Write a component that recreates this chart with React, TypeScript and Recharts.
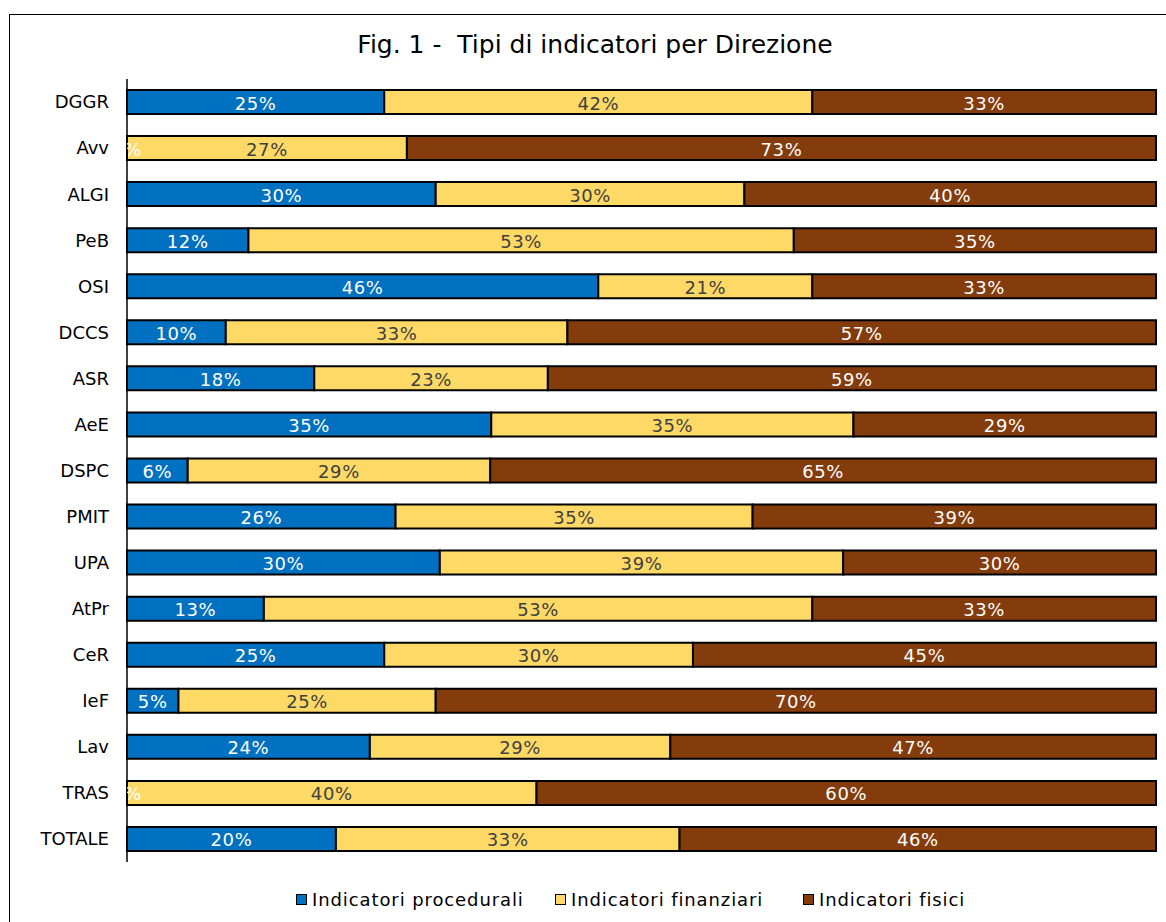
import { Bar, BarChart, LabelList, XAxis, YAxis } from "recharts";

const categories = [
  "DGGR", "Avv", "ALGI", "PeB", "OSI", "DCCS", "ASR", "AeE", "DSPC",
  "PMIT", "UPA", "AtPr", "CeR", "IeF", "Lav", "TRAS", "TOTALE",
];
const procedurali = [25, 0, 30, 11.8, 45.8, 9.6, 18.2, 35.4, 5.9, 26.1, 30.4, 13.3, 25, 5, 23.6, 0, 20.3];
const finanziari = [41.6, 27.2, 30, 53, 20.8, 33.2, 22.7, 35.2, 29.4, 34.7, 39.2, 53.3, 30, 25, 29.2, 39.8, 33.4];
const fisici = [33.4, 72.8, 40, 35.2, 33.4, 57.2, 59.1, 29.4, 64.7, 39.2, 30.4, 33.4, 45, 70, 47.2, 60.2, 46.3];

const SERIES = [
  { key: "procedurali", name: "Indicatori procedurali", color: "#0070C0", text: "#ffffff" },
  { key: "finanziari", name: "Indicatori finanziari", color: "#FFD966", text: "#404040" },
  { key: "fisici", name: "Indicatori fisici", color: "#843C0C", text: "#ffffff" },
];

const FONT = '"DejaVu Sans", Verdana, sans-serif';

const data = categories.map((name, i) => ({
  name,
  procedurali: procedurali[i],
  finanziari: finanziari[i],
  fisici: fisici[i],
}));

function labelText(cx: number, cy: number, color: string, value: number, clip?: string) {
  return (
    <text
      x={cx}
      y={cy + 1}
      fill={color}
      textAnchor="middle"
      dominantBaseline="central"
      fontSize={18}
      letterSpacing={0.6}
      fontFamily={FONT}
      clipPath={clip}
    >
      {`${Math.round(value)}%`}
    </text>
  );
}

function makeLabel(color: string, key: string) {
  return (props: any) => {
    const { x, y, width, height, value, index } = props;
    const nx = Number(x);
    const ny = Number(y);
    const cx = nx + Number(width) / 2;
    const cy = ny + Number(height) / 2;
    // the zero-width procedurali segment is not drawn by Recharts, so its
    // clipped "0%" label is added here, at the start of the next segment
    const zeroBefore = key === "finanziari" && procedurali[index] === 0;
    const clipId = `clip-zero-${index}`;
    return (
      <g>
        {labelText(cx, cy, color, Number(value))}
        {zeroBefore && (
          <>
            <defs>
              <clipPath id={clipId}>
                <rect x={nx} y={ny - 5} width={200} height={Number(height) + 10} />
              </clipPath>
            </defs>
            {labelText(nx, cy, SERIES[0].text, procedurali[index], `url(#${clipId})`)}
          </>
        )}
      </g>
    );
  };
}

export default function App() {
  return (
    <div style={{ position: "absolute", left: 0, top: 0, width: 1166, height: 922, background: "#fff", overflow: "hidden", fontFamily: FONT }}>
      <div
        style={{
          position: "absolute",
          left: 9,
          top: 14,
          width: 1200,
          height: 1000,
          border: "1.5px solid #000",
        }}
      />
      <div
        style={{
          position: "absolute",
          left: 0,
          width: 1166,
          top: 30,
          textAlign: "center",
          fontSize: 25,
          color: "#000",
          whiteSpace: "pre",
          paddingLeft: 12,
        }}
      >
        {"Fig. 1 -  Tipi di indicatori per Direzione"}
      </div>
      <div style={{ position: "absolute", left: 0, top: 0 }}>
        <BarChart
          width={1166}
          height={922}
          data={data}
          layout="vertical"
          barSize={24}
          margin={{ top: 79, right: 10, bottom: 60, left: 0 }}
        >
          <XAxis type="number" domain={[0, 100]} hide />
          <YAxis
            type="category"
            dataKey="name"
            width={127}
            axisLine={{ stroke: "#000", strokeWidth: 1.5 }}
            tickLine={false}
            tickSize={0}
            tickMargin={18}
            tick={{ fill: "#000", fontSize: 18, fontFamily: FONT }}
          />
          {SERIES.map((s) => (
            <Bar
              key={s.key}
              dataKey={s.key}
              name={s.name}
              stackId="a"
              fill={s.color}
              stroke="#000"
              strokeWidth={2}
              isAnimationActive={false}
            >
              <LabelList dataKey={s.key} content={makeLabel(s.text, s.key)} />
            </Bar>
          ))}
        </BarChart>
      </div>
      {SERIES.map((s, i) => (
        <div
          key={s.key}
          style={{
            position: "absolute",
            left: [296, 555, 803][i],
            top: 889,
            display: "flex",
            alignItems: "center",
            fontSize: 18,
            color: "#000",
            letterSpacing: 0.9,
          }}
        >
          <span
            style={{
              display: "inline-block",
              width: 9,
              height: 9,
              background: s.color,
              border: "1px solid #000",
              marginRight: 5,
            }}
          />
          {s.name}
        </div>
      ))}
    </div>
  );
}
